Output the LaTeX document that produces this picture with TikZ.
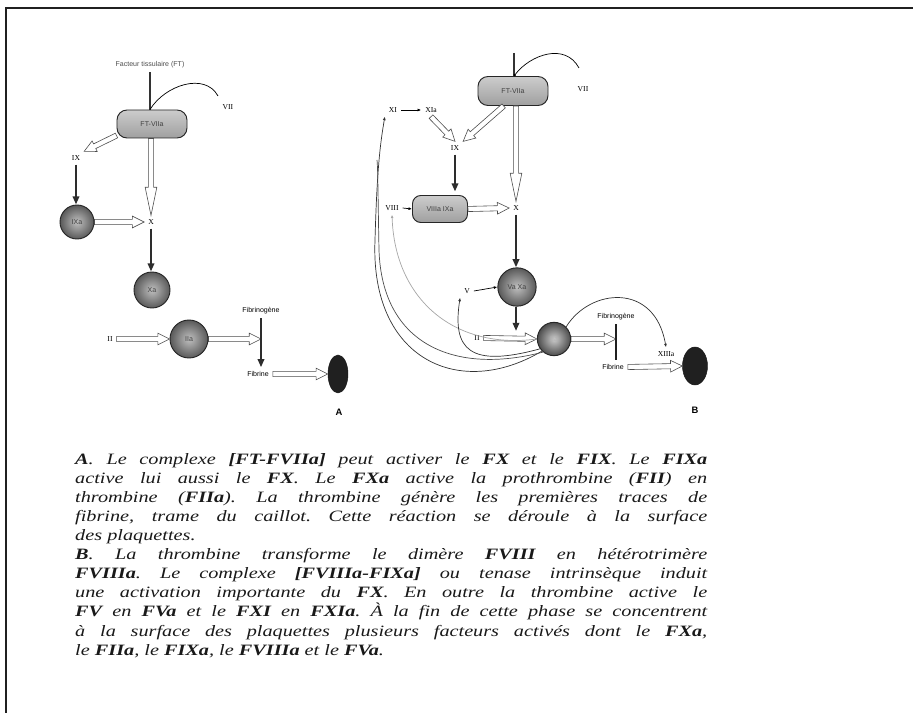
\documentclass[tikz,border=0pt]{standalone}
\usepackage{fontspec}
\usetikzlibrary{calc,arrows.meta,shapes.geometric}
\newfontfamily\lblsans{Liberation Sans}
\newfontfamily\lblserif{Liberation Serif}
\newfontfamily\capfont{Liberation Serif}[FakeStretch=1.28]
\newcommand{\lbl}{\lblsans\fontsize{6}{7}\selectfont}
\newcommand{\num}{\lblserif\fontsize{6.5}{7}\selectfont}
\newcommand{\fac}[1]{\textbf{#1}}

\tikzset{
  complexbox/.style={rectangle, rounded corners=0.3cm, draw=gray!30!black, thick,
    top color=gray!40, bottom color=gray!75, text=black!75, font=\lbl},
  factor/.style={circle, draw=gray!30!black, thick,
    inner color=gray!50, outer color=gray!70!black, text=black!75, font=\lbl},
  clot/.style={ellipse, draw=gray!20!black, fill=gray!25!black},
  darkarr/.style={draw=gray!35!black, line width=2.2pt,
    -{Triangle[length=7pt,width=5.5pt]}},
  smallarr/.style={draw=black, semithick, -{Latex[length=3pt,width=2.5pt]}},
  feedback/.style={draw=black!80, semithick, -{Latex[length=3pt,width=2.5pt]}},
  hollow/.style={draw=black!70, fill=white, line width=0.5pt, to path={
    ($(\tikztostart)!2.2pt!90:(\tikztotarget)$)
    -- ($(\tikztotarget)!#1!(\tikztostart)!2.2pt!-90:(\tikztostart)$)
    -- ($(\tikztotarget)!#1!(\tikztostart)!5pt!-90:(\tikztostart)$)
    -- (\tikztotarget)
    -- ($(\tikztotarget)!#1!(\tikztostart)!5pt!90:(\tikztostart)$)
    -- ($(\tikztotarget)!#1!(\tikztostart)!2.2pt!90:(\tikztostart)$)
    -- ($(\tikztostart)!2.2pt!-90:(\tikztotarget)$) -- cycle}},
  hollow/.default=10pt
}

\begin{document}
\begin{tikzpicture}[x=0.03cm, y=-0.03cm]
    \useasboundingbox (0,0) rectangle (913,713);
    \draw[line width=1.4pt, gray!25!black] (6,713) -- (6,8) -- (913,8);

    % Panel A: entities
    \node[font=\lbl, text=black!70] (ftA) at (150,65) {Facteur tissulaire (FT)};
    \node[complexbox, minimum width=2.1cm, minimum height=0.84cm] (ftviiA) at (152,124) {FT-VIIa};
    \node[font=\num] (viiA) at (228,107) {VII};
    \node[font=\num] (ixA) at (76,158) {IX};
    \node[factor, minimum size=1.02cm] (ixaA) at (77,222) {IXa};
    \node[font=\num] (xA) at (151,222) {X};
    \node[factor, minimum size=1.08cm] (xaA) at (152,290) {Xa};
    \node[font=\num] (iiA) at (110,339) {II};
    \node[factor, minimum size=1.14cm] (iiaA) at (189,339) {IIa};
    \node[font=\lbl] (fbgA) at (261,311) {Fibrinogène};
    \node[font=\lbl] (fbA) at (258,374) {Fibrine};
    \node[clot, minimum width=0.6cm, minimum height=1.14cm] (clotA) at (338,374) {};
    \node[font=\lblsans\bfseries\fontsize{8}{9}\selectfont] (capA) at (339,412) {A};
    \coordinate (cutA) at (fbgA.south |- iiaA.east);

    % Panel A: reactions
    \draw[gray!40!black, line width=1.4pt] (ftA.south) -- (ftA.south |- ftviiA.north);
    \draw[black, semithick] (ftA.south |- ftviiA.north) .. controls (165,85) and (205,72) .. (218,96);
    \draw[hollow] (ftviiA.198) to (ixA.north east);
    \draw[darkarr] (ixA.south) -- (ixA.south |- ixaA.north);
    \draw[hollow] (ixaA.east) to (xA.west);
    \draw[hollow=24pt] (ftviiA.south -| xA) to (xA.north);
    \draw[darkarr] (xA.south) -- (xA.south |- xaA.north);
    \draw[hollow] (iiA.east) to (iiaA.west);
    \draw[hollow] (iiaA.east) to (cutA);
    \draw[darkarr] (fbgA.south) -- (fbgA.south |- fbA.north);
    \draw[hollow] (fbA.east) to (clotA.west);

    % Panel B: entities
    \coordinate (ftB) at (514,53);
    \node[complexbox, minimum width=2.1cm, minimum height=0.87cm] (ftviiB) at (513,91) {FT-VIIa};
    \node[font=\num] (viiB) at (583,89) {VII};
    \node[font=\num] (xiB) at (393,110) {XI};
    \node[font=\num] (xiaB) at (431,110) {XIa};
    \node[font=\num] (ixB) at (455,148) {IX};
    \node[font=\num] (viiiB) at (392,208) {VIII};
    \node[complexbox, rounded corners=0.25cm, minimum width=1.65cm, minimum height=0.81cm] (viiiaB) at (440,209) {VIIIa IXa};
    \node[font=\num] (xB) at (516,208) {X};
    \node[factor, minimum size=1.15cm] (vaxaB) at (517,287) {Va Xa};
    \node[font=\num] (vB) at (467,291) {V};
    \node[font=\num] (iiB) at (477,338) {II};
    \node[factor, minimum size=1.0cm, inner color=gray!40, outer color=gray!60!black, text=gray!60] (iiaB) at (554,339) {IIa};
    \node[font=\lbl] (fbgB) at (616,317) {Fibrinogène};
    \node[font=\lbl] (fbB) at (613,367) {Fibrine};
    \node[font=\num] (xiiiB) at (666,354) {XIIIa};
    \node[clot, minimum width=0.75cm, minimum height=1.14cm] (clotB) at (695,366) {};
    \node[font=\lblsans\bfseries\fontsize{8}{9}\selectfont] (capB) at (695,410) {B};
    \coordinate (cutB) at (fbgB.south |- iiaB.east);

    % Panel B: reactions
    \draw[gray!40!black, line width=1.4pt] (ftB) -- (ftB |- ftviiB.north);
    \draw[black, semithick, {Circle[length=2pt]}-] (ftB |- ftviiB.north) .. controls (530,55) and (565,42) .. (579,68);
    \draw[smallarr] (xiB.east) -- (xiaB.west);
    \draw[hollow] (xiaB.south) to (ixB.north);
    \draw[hollow] (ftviiB.238) to (ixB.north east);
    \draw[darkarr, shorten >=3pt] (ixB.south) -- (ixB.south |- viiiaB.north);
    \draw[smallarr] (viiiB.east) -- (viiiaB.west);
    \draw[hollow] (viiiaB.east) to (xB.west);
    \draw[hollow=24pt] (ftviiB.south -| xB) to (xB.north);
    \draw[darkarr] (xB.south) -- (xB.south |- vaxaB.north);
    \draw[smallarr] (vB.east) -- (vaxaB.west);
    \draw[darkarr, shorten >=6pt] (vaxaB.south -| xB) -- (xB |- iiB.east);
    \draw[hollow] (iiB.east) to (iiaB.west);
    \draw[hollow] (iiaB.east) to (cutB);
    \draw[gray!25!black, line width=1.6pt] (fbgB.south) -- (fbgB.south |- fbB.north);
    \draw[hollow] (fbB.east) to (clotB.west);
    \draw[feedback] (iiaB.north east) .. controls (590,288) and (655,282) .. (xiiiB.north);

    % Panel B: feedback from thrombin
    \draw[feedback] (iiaB.south west) .. controls (460,400) and (370,360) .. (375,240)
        .. controls (377,170) and (380,145) .. (xiB.south west);
    \draw[black!70, semithick] (iiaB.230) .. controls (455,375) and (382,345) .. (379,250)
        .. controls (378,200) and (378,170) .. (377,160);
    \draw[feedback, black!35] (iiaB.west) .. controls (455,350) and (395,300) .. (viiiB.south);
    \draw[feedback] (iiaB.215) .. controls (470,368) and (452,350) .. (vB.south west);

    % Caption
    \node[anchor=north west, text width=18.96cm, align=justify, inner sep=0pt,
          text=black!90, font=\capfont\itshape\fontsize{13.5}{16.3}\selectfont] (caption) at (75,453) {%
      \frenchspacing\tolerance=10000\emergencystretch=2em\parindent=0pt
      \textbf{A}. Le complexe \fac{[FT-FVIIa]} peut activer le \fac{FX} et le \fac{FIX}. Le \fac{FIXa}\linebreak
      active lui aussi le \fac{FX}. Le \fac{FXa} active la prothrombine (\fac{FII}) en\linebreak
      thrombine (\fac{FIIa}). La thrombine génère les premières traces de\linebreak
      fibrine, trame du caillot. Cette réaction se déroule à la surface\linebreak
      des plaquettes.\par
      \textbf{B}. La thrombine transforme le dimère \fac{FVIII} en hétérotrimère\linebreak
      \fac{FVIIIa}. Le complexe \fac{[FVIIIa-FIXa]} ou tenase intrinsèque induit\linebreak
      une activation importante du \fac{FX}. En outre la thrombine active le\linebreak
      \fac{FV} en \fac{FVa} et le \fac{FXI} en \fac{FXIa}. À la fin de cette phase se concentrent\linebreak
      à la surface des plaquettes plusieurs facteurs activés dont le \fac{FXa},\linebreak
      le \fac{FIIa}, le \fac{FIXa}, le \fac{FVIIIa} et le \fac{FVa}.\par};
\end{tikzpicture}
\end{document}
